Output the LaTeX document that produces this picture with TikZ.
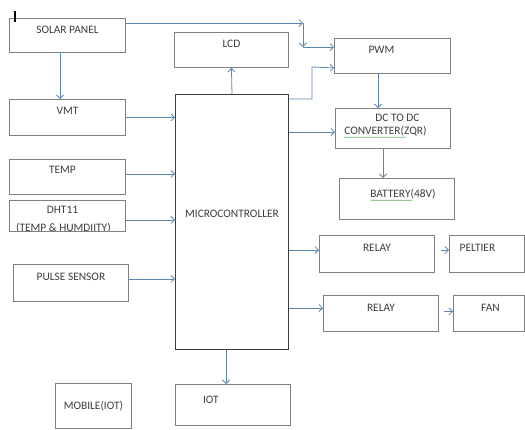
\documentclass[tikz,border=0pt]{standalone}
\usepackage{fontspec}
\setmainfont{Carlito}
\usepackage{tikz}
\usetikzlibrary{arrows,arrows.meta,calc,positioning,decorations.pathmorphing}
\definecolor{boxgray}{RGB}{128,128,128}
\definecolor{mcugray}{RGB}{60,60,60}
\definecolor{linkblue}{RGB}{92,134,178}
\definecolor{txtgray}{RGB}{60,60,60}
\definecolor{spellgreen}{RGB}{120,185,120}
\tikzset{
  blk/.style={draw=boxgray,line width=0.9pt,anchor=north west,inner sep=0pt},
  lbl/.style={font=\fontsize{11.4}{13}\selectfont,text=txtgray,text height=7.3pt,text depth=0pt,inner sep=0pt},
  link/.style={->,draw=linkblue,line width=0.8pt},
  squig/.style={draw=spellgreen,line width=0.5pt,decorate,decoration={snake,amplitude=0.5pt,segment length=2pt}}
}

\begin{document}
\begin{tikzpicture}[x=1pt,y=-1pt,>={Straight Barb[length=3.5pt,width=7pt]}]
\useasboundingbox (0,0) rectangle (525,429);
\node[blk,minimum width=116pt,minimum height=34pt] (solar) at (9,18) {};
\node[blk,minimum width=116pt,minimum height=36pt] (vmt) at (9,99) {};
\node[blk,minimum width=116pt,minimum height=35pt] (temp) at (9,159) {};
\node[blk,minimum width=116pt,minimum height=31pt] (dht) at (9,200) {};
\node[blk,minimum width=115pt,minimum height=37pt] (pulse) at (13,264) {};
\node[blk,minimum width=76pt,minimum height=45pt] (mobile) at (55,383) {};
\node[blk,minimum width=114pt,minimum height=35pt] (lcd) at (174,32) {};
\node[blk,draw=mcugray,line width=1pt,minimum width=113pt,minimum height=255pt] (mcu) at (175,94) {};
\node[blk,minimum width=115pt,minimum height=41pt] (iot) at (175,384) {};
\node[blk,minimum width=116pt,minimum height=35pt] (pwm) at (334,38) {};
\node[blk,minimum width=115pt,minimum height=40pt] (dcdc) at (335,108) {};
\node[blk,minimum width=115pt,minimum height=41pt] (batt) at (339,178) {};
\node[blk,minimum width=115pt,minimum height=37pt] (relaya) at (319,235) {};
\node[blk,minimum width=75pt,minimum height=37pt] (peltier) at (449,235) {};
\node[blk,minimum width=115pt,minimum height=36pt] (relayb) at (323,295) {};
\node[blk,minimum width=71pt,minimum height=36pt] (fan) at (453,295) {};

\node[lbl] (solar-t) at ($(solar.north)+(0,12)$) {SOLAR PANEL};
\node[lbl] (vmt-t) at ($(vmt.north)+(0,12)$) {VMT};
\node[lbl] (temp-t) at ($(temp.north)+(-5,11)$) {TEMP};
\node[lbl] (dht-t) at ($(dht.north)+(-5,10)$) {DHT11};
\begin{scope}
\clip (dht.north west) rectangle ($(dht.south east)+(0,-1)$);
\node[lbl] (dht-t2) at ($(dht.north)+(-4,28)$) {(TEMP \& HUMDIITY)};
\end{scope}
\node[lbl] (pulse-t) at ($(pulse.north)+(0,13)$) {PULSE SENSOR};
\node[lbl] (mobile-t) at (mobile.center) {MOBILE(IOT)};
\node[lbl] (lcd-t) at ($(lcd.north)+(0,12)$) {LCD};
\node[lbl] (mcu-t) at ($(mcu.center)+(0,-8.5)$) {MICROCONTROLLER};
\node[lbl] (iot-t) at ($(iot.north)+(-22,16)$) {IOT};
\node[lbl] (pwm-t) at ($(pwm.north)+(-11,12)$) {PWM};
\node[lbl] (dcdc-t) at ($(dcdc.north)+(4.5,10)$) {DC TO DC};
\node[lbl] (conv-t) at ($(dcdc.north)+(-7.5,23)$) {CONVERTER(ZQR)};
\node[lbl] (batt-t) at ($(batt.north)+(6,16)$) {BATTERY(48V)};
\node[lbl] (relaya-t) at ($(relaya.north)+(0,13)$) {RELAY};
\node[lbl] (peltier-t) at ($(peltier.north)+(-9.5,13)$) {PELTIER};
\node[lbl] (relayb-t) at ($(relayb.north)+(0,13)$) {RELAY};
\node[lbl] (fan-t) at ($(fan.north)+(1.5,13)$) {FAN};

\draw[squig] ($(conv-t.south west)+(0,2.5)$) -- ++(62,0);
\draw[squig] ($(batt-t.south west)+(0,2.5)$) -- ++(42,0);
\draw[line width=1.2pt] (15,11) -- (15,22);

\coordinate (bend) at (303,23);
\coordinate (drop) at (303,47);
\coordinate (sv) at (60,0);
\coordinate (pd) at (378,0);
\coordinate (db) at (383,0);
\coordinate (mi) at (226,0);
\coordinate (md) at (0,132);
\coordinate (mr) at (0,250);
\coordinate (ms) at (0,308);

\draw[link] (solar.south -| sv) -- (vmt.north -| sv);
\draw[link] ($(solar.north east)+(0,5)$) -- (bend);
\draw[link] (bend) -- (drop);
\draw[link] (drop) -- (pwm.west |- drop);
\draw[link] (vmt.east) -- (mcu.west |- vmt.east);
\draw[link] ($(temp.east)+(0,-3)$) -- ($(mcu.west |- temp.east)+(0,-3)$);
\draw[link] ($(dht.east)+(0,4)$) -- ($(mcu.west |- dht.east)+(0,4)$);
\draw[link] ($(pulse.east)+(0,-4)$) -- ($(mcu.west |- pulse.east)+(0,-4)$);
\draw[link] (mcu.north) -- (lcd.south);
\draw[link] ($(mcu.north east)+(0,5)$) -| (312,67) -- ($(pwm.south west)+(0,-6)$);
\draw[link] (mcu.east |- md) -- (dcdc.west |- md);
\draw[link] (pwm.south -| pd) -- (dcdc.north -| pd);
\draw[link] (dcdc.south -| db) -- (batt.north -| db);
\draw[link] (mcu.east |- mr) -- (relaya.west |- mr);
\draw[link] (mcu.east |- ms) -- (relayb.west |- ms);
\draw[link,shorten <=6pt] ($(relaya.east)+(0,-4)$) -- ($(peltier.west)+(0,-4)$);
\draw[link,shorten <=5pt] ($(relayb.east)+(0,-2)$) -- ($(fan.west)+(0,-2)$);
\draw[link] (mcu.south -| mi) -- (iot.north -| mi);
\end{tikzpicture}
\end{document}
